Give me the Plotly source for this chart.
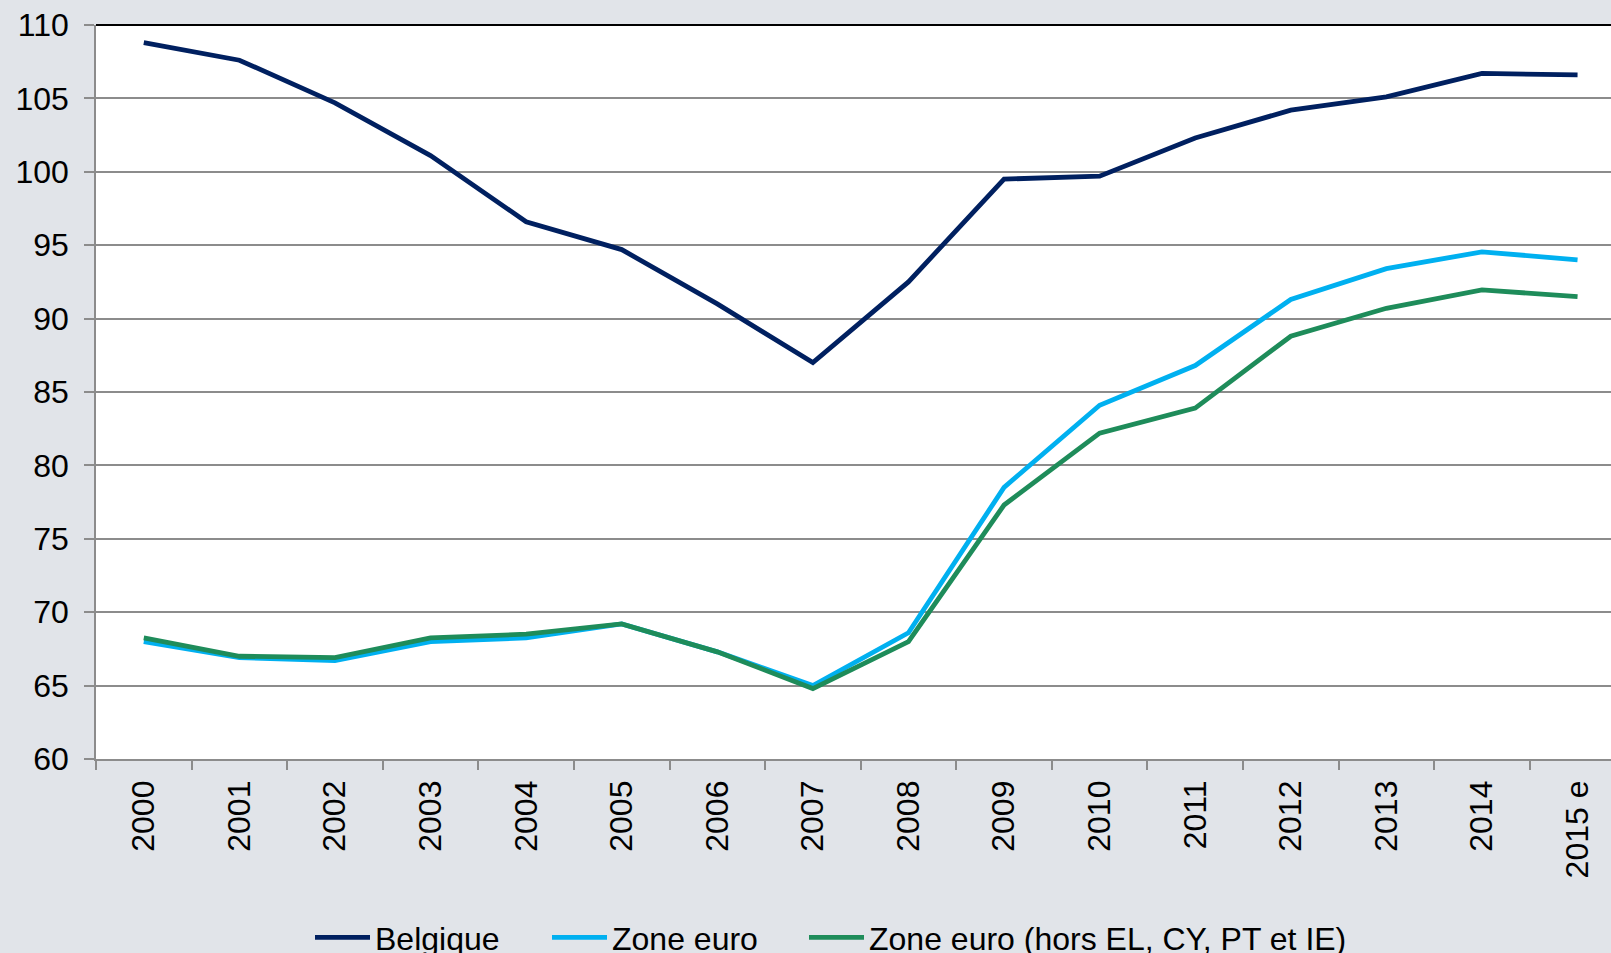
import plotly.graph_objects as go

years = ["2000", "2001", "2002", "2003", "2004", "2005", "2006", "2007",
         "2008", "2009", "2010", "2011", "2012", "2013", "2014", "2015 e"]
belgique = [108.8, 107.6, 104.7, 101.1, 96.6, 94.7, 91.0, 87.0,
            92.5, 99.5, 99.7, 102.3, 104.2, 105.1, 106.7, 106.6]
zone_euro = [68.0, 66.9, 66.7, 68.0, 68.25, 69.2, 67.3, 65.0,
             68.6, 78.5, 84.1, 86.8, 91.3, 93.4, 94.55, 94.0]
zone_euro_hors = [68.25, 67.0, 66.9, 68.25, 68.5, 69.2, 67.3, 64.8,
                  68.0, 77.3, 82.2, 83.9, 88.8, 90.7, 91.95, 91.5]
yticks = [60, 65, 70, 75, 80, 85, 90, 95, 100, 105, 110]

names = ["Belgique", "Zone euro", "Zone euro (hors EL, CY, PT et IE)"]
colors = ["#002060", "#00B0F0", "#1E8C5A"]
legend_widths = [167, 187, 480]

fig = go.Figure()
for name, vals, col, lw in zip(names, [belgique, zone_euro, zone_euro_hors], colors, legend_widths):
    fig.add_trace(go.Scatter(x=years, y=vals, mode="lines", name=name,
                             legendwidth=lw,
                             line=dict(color=col, width=4.8)))

font = dict(family="Liberation Sans, Arial, sans-serif", size=32, color="#000000")
bg = "#E1E4E9"
fig.update_layout(
    width=1611, height=953,
    paper_bgcolor=bg, plot_bgcolor="#FFFFFF",
    margin=dict(l=96, r=0, t=25, b=194),
    font=font,
    showlegend=True,
    legend=dict(orientation="h", xref="container", x=310 / 1611, xanchor="left",
                yref="container", y=1 - 910 / 953, yanchor="top",
                font=font, bgcolor="rgba(0,0,0,0)", itemwidth=55,
                tracegroupgap=0),
    xaxis=dict(type="category", range=[-0.5, 15.35], tickson="boundaries",
               ticks="outside", ticklen=9, tickcolor="#8C8C8C", tickwidth=1.5,
               showline=True, linecolor="#8C8C8C", linewidth=1.5,
               showgrid=False, tickangle=-90, tickfont=font, zeroline=False,
               ticklabelstandoff=7),
    yaxis=dict(range=[60, 110], tickvals=yticks, ticks="outside", ticklen=10,
               tickcolor="#8C8C8C", tickwidth=1.5, showline=True,
               linecolor="#8C8C8C", linewidth=1.5, showgrid=True,
               gridcolor="#8C8C8C", gridwidth=1.5, zeroline=False,
               tickfont=font, ticklabelstandoff=9),
)
fig.add_shape(type="line", xref="paper", yref="paper", x0=0, x1=1, y0=1, y1=1,
              line=dict(color="#000000", width=2))
fig.write_html("out.html", config={"displayModeBar": False},
               post_script="document.body.style.margin='0';")
